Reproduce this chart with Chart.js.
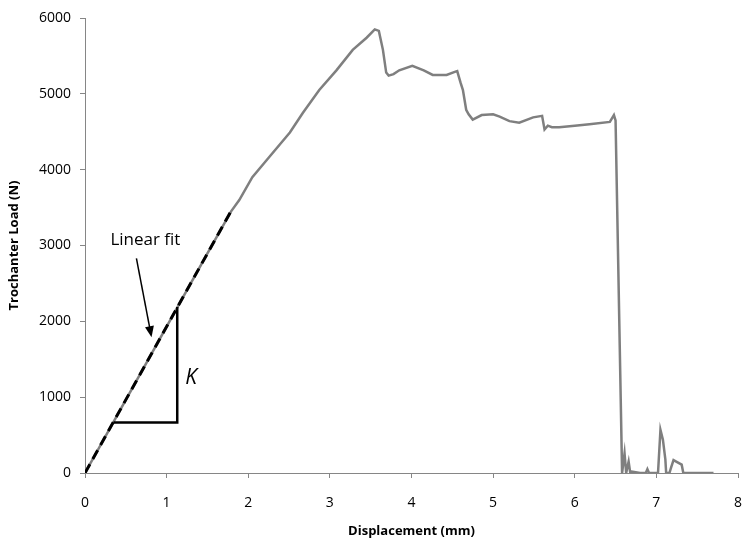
<!DOCTYPE html>
<html>
<head>
<meta charset="utf-8">
<script src="https://cdn.jsdelivr.net/npm/chart.js@4/dist/chart.umd.min.js"></script>
<style>
  html, body { margin: 0; padding: 0; background: #fff; }
  #wrap { width: 747px; height: 547px; position: relative; }
</style>
</head>
<body>
<div id="wrap"><canvas id="chart" width="747" height="547"></canvas></div>
<script>
// measured load-displacement curve
const displacement = [0, 0.5, 1.0, 1.5, 1.79, 1.89, 2.05, 2.26, 2.51, 2.67, 2.87, 3.08, 3.28, 3.45, 3.55, 3.6, 3.65, 3.69, 3.72, 3.78, 3.85, 4.01, 4.15, 4.26, 4.43, 4.53, 4.56, 4.6, 4.63, 4.67, 4.7, 4.75, 4.86, 5.0, 5.08, 5.2, 5.32, 5.49, 5.6, 5.63, 5.67, 5.72, 5.81, 6.0, 6.18, 6.43, 6.48, 6.5, 6.58, 6.59, 6.61, 6.63, 6.66, 6.68, 6.7, 6.8, 6.87, 6.89, 6.91, 7.02, 7.05, 7.08, 7.11, 7.12, 7.16, 7.18, 7.21, 7.26, 7.31, 7.33, 7.6, 7.7];
const load = [0, 965, 1930, 2895, 3450, 3600, 3900, 4170, 4490, 4750, 5050, 5310, 5580, 5740, 5850, 5830, 5580, 5280, 5240, 5260, 5310, 5370, 5310, 5250, 5250, 5290, 5300, 5150, 5050, 4790, 4730, 4660, 4720, 4730, 4700, 4640, 4620, 4690, 4710, 4530, 4580, 4560, 4560, 4580, 4600, 4630, 4720, 4650, 0, 0, 260, 0, 150, 0, 20, 0, 0, 50, 0, 0, 570, 440, 180, 0, 0, 70, 170, 140, 110, 0, 0, 0];

// linear fit and stiffness triangle
const fitX = [0, 1.8];
const fitY = [0, 3475];
const triX = [0.35, 1.13, 1.13];
const triY = [667, 667, 2190];

// labels
const xTitle = 'Displacement (mm)';
const yTitle = 'Trochanter Load (N)';
const fitLabel = 'Linear fit';
const fitLabelAt = [0.74, 3070];
const arrowFrom = [0.63, 2830];
const arrowTo = [0.815, 1790];
const kLabel = 'K';
const kLabelAt = [1.3, 1250];

function toPoints(xs, ys) {
    return xs.map((x, i) => ({ x: x, y: ys[i] }));
}

const annotations = {
    id: 'annotations',
    afterDatasetsDraw(chart) {
        const c = chart.ctx;
        const sx = chart.scales.x;
        const sy = chart.scales.y;
        c.save();
        c.fillStyle = '#000';
        c.font = '17px "Open Sans", sans-serif';
        c.textAlign = 'center';
        c.textBaseline = 'middle';
        c.fillText(fitLabel, sx.getPixelForValue(fitLabelAt[0]), sy.getPixelForValue(fitLabelAt[1]));

        c.font = 'italic 21px "Open Sans", sans-serif';
        c.fillText(kLabel, sx.getPixelForValue(kLabelAt[0]), sy.getPixelForValue(kLabelAt[1]));

        // arrow
        let x1 = sx.getPixelForValue(arrowFrom[0]), y1 = sy.getPixelForValue(arrowFrom[1]);
        let x2 = sx.getPixelForValue(arrowTo[0]), y2 = sy.getPixelForValue(arrowTo[1]);
        let ang = Math.atan2(y2 - y1, x2 - x1);
        c.strokeStyle = '#000';
        c.lineWidth = 1.5;
        c.beginPath();
        c.moveTo(x1, y1);
        c.lineTo(x2 - 8 * Math.cos(ang), y2 - 8 * Math.sin(ang));
        c.stroke();
        c.beginPath();
        c.moveTo(x2, y2);
        c.lineTo(x2 - 11 * Math.cos(ang) + 4.5 * Math.sin(ang), y2 - 11 * Math.sin(ang) - 4.5 * Math.cos(ang));
        c.lineTo(x2 - 11 * Math.cos(ang) - 4.5 * Math.sin(ang), y2 - 11 * Math.sin(ang) + 4.5 * Math.cos(ang));
        c.closePath();
        c.fill();
        c.restore();
    }
};

const axisGrey = '#868686';
const tickFont = { family: '"Open Sans", sans-serif', size: 14 };

new Chart(document.getElementById('chart').getContext('2d'), {
    type: 'scatter',
    data: {
        datasets: [
            {
                data: toPoints(displacement, load),
                showLine: true,
                borderColor: '#7f7f7f',
                borderWidth: 2.5,
                pointRadius: 0,
                tension: 0,
                order: 3
            },
            {
                data: toPoints(fitX, fitY),
                showLine: true,
                borderColor: '#000',
                borderWidth: 3,
                borderDash: [10, 6],
                pointRadius: 0,
                order: 1
            },
            {
                data: toPoints(triX, triY),
                showLine: true,
                borderColor: '#000',
                borderWidth: 2.5,
                pointRadius: 0,
                order: 2
            }
        ]
    },
    options: {
        responsive: false,
        animation: false,
        layout: { padding: { left: 0, right: 9, top: 18, bottom: 0 } },
        plugins: { legend: { display: false }, tooltip: { enabled: false } },
        scales: {
            x: {
                type: 'linear',
                min: 0,
                max: 8,
                ticks: { stepSize: 1, color: '#000', font: tickFont, padding: 17, callback: (v) => String(v) },
                grid: { drawOnChartArea: false, drawTicks: true, tickLength: 5, color: axisGrey },
                border: { color: axisGrey, width: 1 },
                title: {
                    display: true,
                    text: xTitle,
                    color: '#000',
                    font: { family: '"Open Sans", sans-serif', size: 13, weight: 'bold' },
                    padding: { top: 6, bottom: 8 }
                },
                afterFit(scale) {
                    scale.height = 74;
                    scale.paddingRight = 0;
                    scale.paddingLeft = 0;
                }
            },
            y: {
                type: 'linear',
                min: 0,
                max: 6000,
                ticks: { stepSize: 1000, color: '#000', font: tickFont, padding: 9, callback: (v) => String(v) },
                grid: { drawOnChartArea: false, drawTicks: true, tickLength: 5, color: axisGrey },
                border: { color: axisGrey, width: 1 },
                title: {
                    display: true,
                    text: yTitle,
                    color: '#000',
                    font: { family: '"Open Sans", sans-serif', size: 13, weight: 'bold' },
                    padding: { top: 6, bottom: 6 }
                },
                afterFit(scale) { scale.width = 85; }
            }
        }
    },
    plugins: [annotations]
});
</script>
</body>
</html>
